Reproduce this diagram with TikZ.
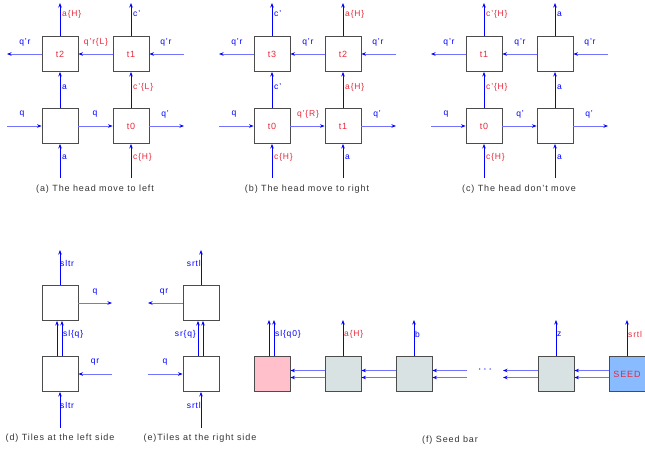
\documentclass[tikz,border=0pt]{standalone}
\usepackage{fontspec}
\setmainfont[LetterSpace=10]{Liberation Sans}
\usetikzlibrary{arrows.meta}
\definecolor{tred}{HTML}{E8283A}
\definecolor{tgray}{HTML}{D8E2E2}
\definecolor{tpink}{HTML}{FFC0CB}
\definecolor{tseed}{HTML}{88BBFF}
\tikzset{
 tile/.style={draw=black!70, line width=0.9pt, minimum width=36pt, minimum height=35pt, inner sep=0pt, font=\fontsize{9}{10}\selectfont, text=tred},
 arr/.style={-{Stealth[length=4.5pt,width=3.5pt]}, blue, line width=0.8pt},
 harr/.style={-{Stealth[length=4.5pt,width=3.5pt,color=blue]}, draw=blue!55, line width=1pt},
 lb/.style={font=\fontsize{8.5}{10}\selectfont, text=blue, inner sep=1pt},
 lr/.style={lb, text=tred},
 captxt/.style={font=\fontsize{9}{11}\selectfont, text=black!80}
}
\newcommand\gridpanel[6]{%
\begin{scope}[xshift=#1pt]
 \node[tile] (#2tl) at (60,54) {#3};
 \node[tile] (#2tr) at (131,54) {#4};
 \node[tile] (#2bl) at (60,126) {#5};
 \node[tile] (#2br) at (131,126) {#6};
 \coordinate (#2tlu) at (60,3); \coordinate (#2tru) at (131,3);
 \coordinate (#2tll) at (7,54); \coordinate (#2trr) at (184,54);
 \coordinate (#2bll) at (7,126); \coordinate (#2brr) at (184,126);
 \coordinate (#2bld) at (60,178); \coordinate (#2brd) at (131,178);
 \draw[arr] (#2tl.north) -- (#2tlu);
 \draw[arr] (#2tr.north) -- (#2tru);
 \draw[harr] (#2trr) -- (#2tr.east);
 \draw[harr] (#2tr.west) -- (#2tl.east);
 \draw[harr] (#2tl.west) -- (#2tll);
 \draw[harr] (#2bll) -- (#2bl.west);
 \draw[harr] (#2bl.east) -- (#2br.west);
 \draw[harr] (#2br.east) -- (#2brr);
 \draw[arr] (#2bld) -- (#2bl.south);
 \draw[arr] (#2brd) -- (#2br.south);
 \draw[arr] (#2bl.north) -- (#2tl.south);
 \draw[arr] (#2br.north) -- (#2tr.south);
\end{scope}}
\begin{document}
\begin{tikzpicture}[x=1pt,y=-1pt]
\useasboundingbox (0,0) rectangle (645,453);
% (a)
\gridpanel{0}{a}{t2}{t1}{}{t0}
\begin{scope}
 \node[lr,anchor=west] (a1) at (61,14) {a\{H\}};
 \node[lb,anchor=west] (a2) at (132,14) {c'};
 \node[lb] (a3) at (25,42) {q'r};
 \node[lr] (a4) at (96,42) {q'r\{L\}};
 \node[lb] (a5) at (166,42) {q'r};
 \node[lb,anchor=west] (a6) at (61,87) {a};
 \node[lr,anchor=west] (a7) at (132,87) {c'\{L\}};
 \node[lb] (a8) at (22,114) {q};
 \node[lb] (a9) at (95,114) {q};
 \node[lb] (a10) at (165,114) {q'};
 \node[lb,anchor=west] (a11) at (61,157) {a};
 \node[lr,anchor=west] (a12) at (132,157) {c\{H\}};
 \node[captxt] (acap) at (95,189) {(a) The head move to left};
\end{scope}
% (b)
\gridpanel{212}{b}{t3}{t2}{t0}{t1}
\begin{scope}[xshift=212pt]
 \node[lb,anchor=west] (b1) at (61,14) {c'};
 \node[lr,anchor=west] (b2) at (132,14) {a\{H\}};
 \node[lb] (b3) at (25,42) {q'r};
 \node[lb] (b4) at (96,42) {q'r};
 \node[lb] (b5) at (166,42) {q'r};
 \node[lb,anchor=west] (b6) at (61,87) {c'};
 \node[lr,anchor=west] (b7) at (132,87) {a\{H\}};
 \node[lb] (b8) at (22,114) {q};
 \node[lr] (b9) at (96,114) {q'\{R\}};
 \node[lb] (b10) at (165,114) {q'};
 \node[lr,anchor=west] (b11) at (61,157) {c\{H\}};
 \node[lb,anchor=west] (b12) at (132,157) {a};
 \node[captxt] (bcap) at (95,189) {(b) The head move to right};
\end{scope}
% (c)
\gridpanel{424}{c}{t1}{}{t0}{}
\begin{scope}[xshift=424pt]
 \node[lr,anchor=west] (c1) at (61,14) {c'\{H\}};
 \node[lb,anchor=west] (c2) at (132,14) {a};
 \node[lb] (c3) at (25,42) {q'r};
 \node[lb] (c4) at (96,42) {q'r};
 \node[lb] (c5) at (166,42) {q'r};
 \node[lr,anchor=west] (c6) at (61,87) {c'\{H\}};
 \node[lb,anchor=west] (c7) at (132,87) {a};
 \node[lb] (c8) at (22,114) {q};
 \node[lb] (c9) at (96,114) {q'};
 \node[lb] (c10) at (165,114) {q'};
 \node[lr,anchor=west] (c11) at (61,157) {c\{H\}};
 \node[lb,anchor=west] (c12) at (132,157) {a};
 \node[captxt] (ccap) at (95,189) {(c) The head don't move};
\end{scope}
% (d)
\node[tile] (dt) at (60,303) {};
\node[tile] (db) at (60,374) {};
\coordinate (dtu) at (60,250); \coordinate (dtr) at (112,303);
\coordinate (dbr) at (112,374); \coordinate (dbd) at (60,428);
\draw[arr] (dt.north) -- (dtu);
\draw[harr] (dt.east) -- (dtr);
\draw[harr] (dbr) -- (db.east);
\draw[arr] (dbd) -- (db.south);
\draw[arr] ([xshift=-3pt]db.north) -- ([xshift=-3pt]dt.south);
\draw[arr] ([xshift=2pt]db.north) -- ([xshift=2pt]dt.south);
\node[lb,anchor=west] (d1) at (59,263) {sltr};
\node[lb] (d2) at (95,292) {q};
\node[lb,anchor=west] (d3) at (62,334) {sl\{q\}};
\node[lb] (d4) at (95,362) {qr};
\node[lb,anchor=west] (d5) at (59,405) {sltr};
\node[captxt] (dcap) at (60,438) {(d) Tiles at the left side};
% (e)
\node[tile] (et) at (201,303) {};
\node[tile] (eb) at (201,374) {};
\coordinate (etu) at (201,250); \coordinate (etl) at (148,303);
\coordinate (ebl) at (148,374); \coordinate (ebd) at (201,428);
\draw[arr] (et.north) -- (etu);
\draw[harr] (et.west) -- (etl);
\draw[harr] (ebl) -- (eb.west);
\draw[arr] (ebd) -- (eb.south);
\draw[arr] ([xshift=-3pt]eb.north) -- ([xshift=-3pt]et.south);
\draw[arr] ([xshift=2pt]eb.north) -- ([xshift=2pt]et.south);
\node[lb,anchor=east] (e1) at (202,263) {srtl};
\node[lb] (e2) at (164,292) {qr};
\node[lb,anchor=east] (e3) at (197,334) {sr\{q\}};
\node[lb] (e4) at (165,362) {q};
\node[lb,anchor=east] (e5) at (202,405) {srtl};
\node[captxt] (ecap) at (200,438) {(e)Tiles at the right side};
% (f)
\node[tile,fill=tgray] (f2) at (343,374) {};
\node[tile,fill=tpink] (f1) at (272,374) {};
\node[tile,fill=tgray] (f3) at (414,374) {};
\node[tile,fill=tgray] (f4) at (556,374) {};
\node[tile,fill=tseed,font=\fontsize{9}{10}\selectfont] (f5) at (627,374) {SEED};
\node[lb,font=\fontsize{12}{12}\selectfont] (dots) at (485,370) {$\cdots$};
\coordinate (fa1) at (467,370.5); \coordinate (fa2) at (467,377.5);
\coordinate (fb1) at (503,370.5); \coordinate (fb2) at (503,377.5);
\foreach \d in {-3.5,3.5}{
 \draw[harr] ([yshift=\d pt]f2.west) -- ([yshift=\d pt]f1.east);
 \draw[harr] ([yshift=\d pt]f3.west) -- ([yshift=\d pt]f2.east);
 \draw[harr] ([yshift=\d pt]f5.west) -- ([yshift=\d pt]f4.east);
}
\draw[harr] (fa1) -- (f3.east |- fa1);
\draw[harr] (fa2) -- (f3.east |- fa2);
\draw[harr] (f4.west |- fb1) -- (fb1);
\draw[harr] (f4.west |- fb2) -- (fb2);
\coordinate (f1u) at (272,320); \coordinate (f2u) at (343,320);
\coordinate (f3u) at (414,320); \coordinate (f4u) at (556,320);
\coordinate (f5u) at (627,320);
\draw[arr] ([xshift=-3pt]f1.north) -- ([xshift=-3pt]f1u);
\draw[arr] ([xshift=2pt]f1.north) -- ([xshift=2pt]f1u);
\draw[arr] (f2.north) -- (f2u);
\draw[arr] (f3.north) -- (f3u);
\draw[arr] (f4.north) -- (f4u);
\draw[arr] (f5.north) -- (f5u);
\node[lb,anchor=west] (g1) at (274,334) {sl\{q0\}};
\node[lr,anchor=west] (g2) at (343,334) {a\{H\}};
\node[lb,anchor=west] (g3) at (414,334) {b};
\node[lb,anchor=west] (g4) at (556,334) {z};
\node[lr,anchor=west] (g5) at (627,334) {srtl};
\node[captxt] (fcap) at (450,440) {(f) Seed bar};
\end{tikzpicture}
\end{document}
